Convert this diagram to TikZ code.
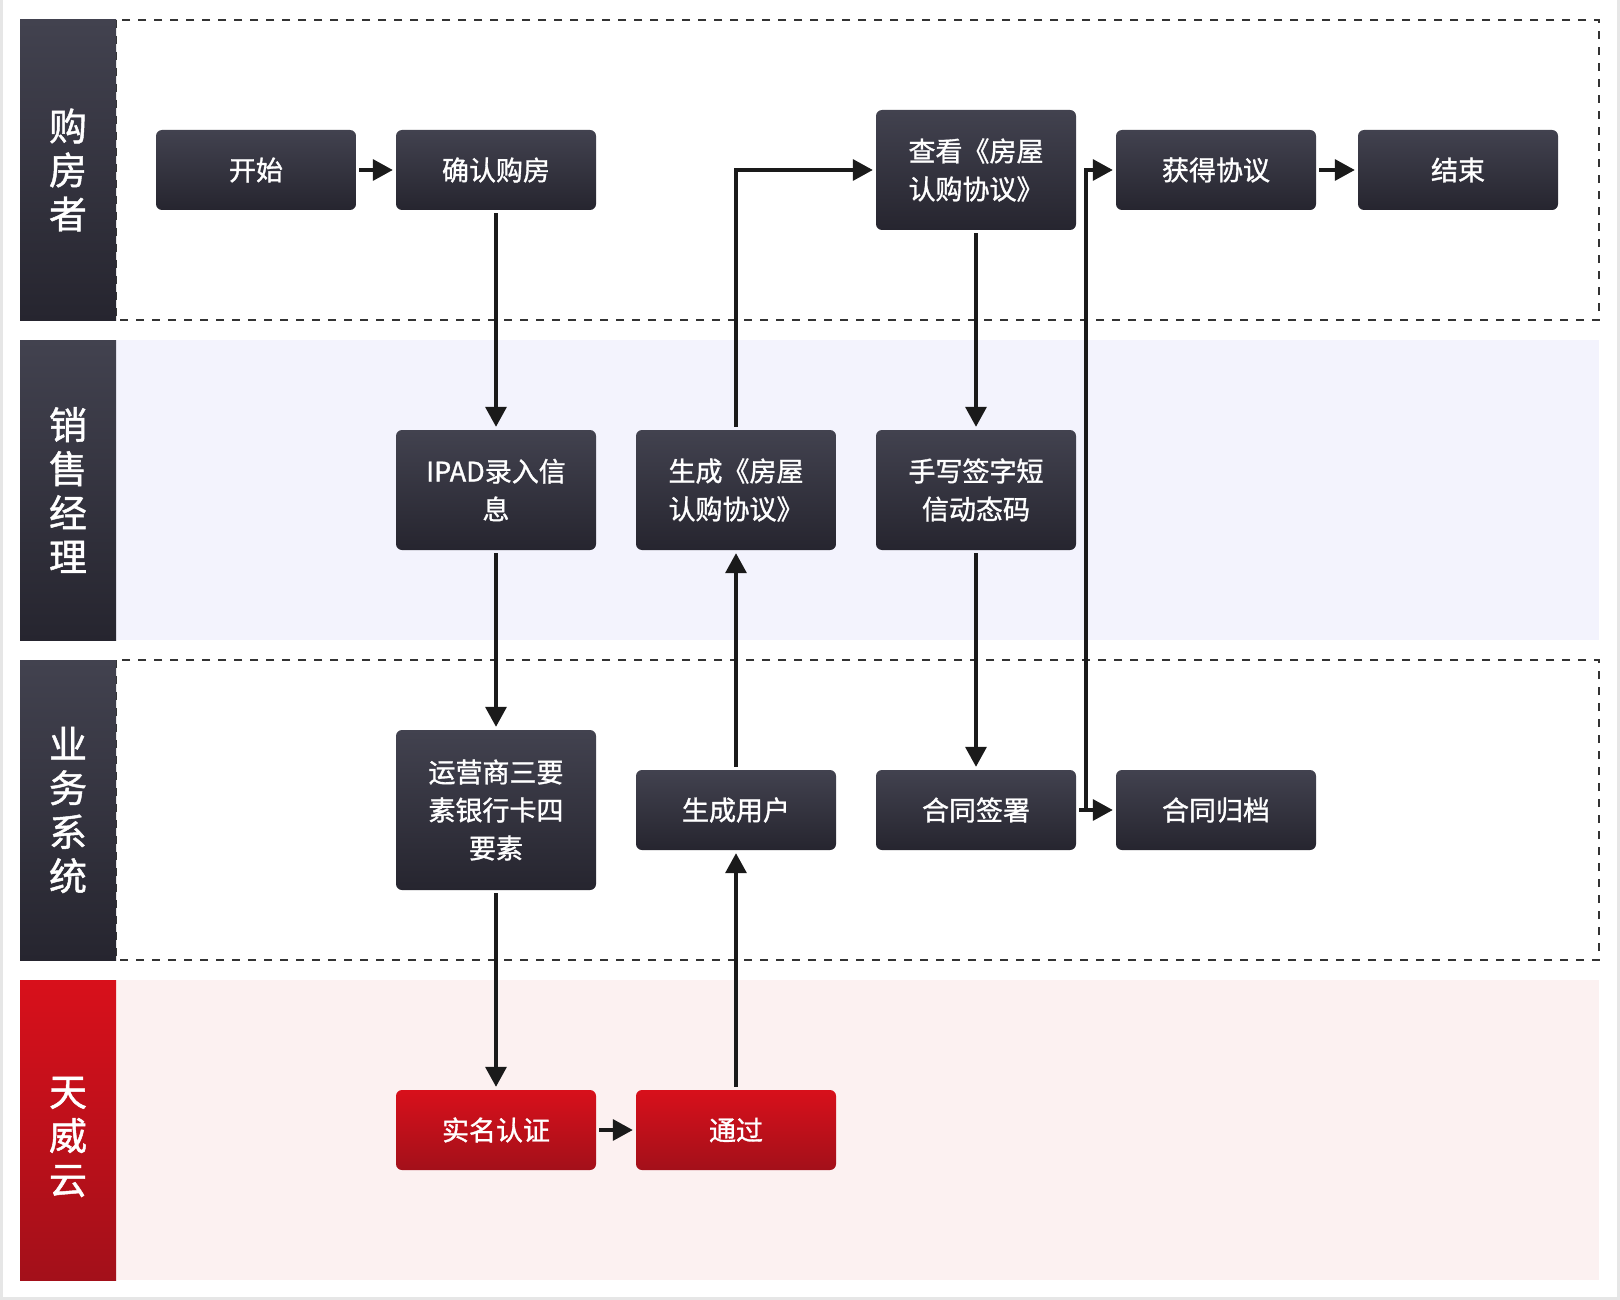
\documentclass[tikz,border=0pt]{standalone}
\usepackage{fontspec}
\setmainfont{Noto Sans CJK SC}[RawFeature={embolden=1.2}]
\usetikzlibrary{arrows.meta}
\definecolor{boxtop}{HTML}{42424F}
\definecolor{boxbot}{HTML}{26252F}
\definecolor{redtop}{HTML}{D8101B}
\definecolor{redbot}{HTML}{A3101A}
\definecolor{lanepurple}{HTML}{F3F3FD}
\definecolor{lanepink}{HTML}{FCF1F1}
\definecolor{dashcol}{HTML}{333333}
\definecolor{arrcol}{HTML}{1A1A1A}
\definecolor{framecol}{HTML}{E6E6E6}
\tikzset{
  darkbox/.style={rounded corners=6pt, top color=boxtop, bottom color=boxbot, draw=none,
    text=white, minimum width=200pt, inner sep=0pt, align=center,
    font=\fontsize{27}{38}\selectfont},
  redbox/.style={darkbox, top color=redtop, bottom color=redbot},
  hdr/.style={top color=boxtop, bottom color=boxbot, draw=none, text=white,
    minimum width=96pt, minimum height=300pt, inner sep=0pt, align=center,
    font=\fontsize{38}{44}\selectfont},
  redhdr/.style={hdr, top color=redtop, bottom color=redbot},
  arr/.style={draw=arrcol, line width=3.4pt, -{Triangle[length=20pt,width=21pt]},
    shorten <=3pt, shorten >=3pt},
  lanedash/.style={draw=dashcol, line width=2.4pt, dash pattern=on 8pt off 8pt}
}
\begin{document}
\begin{tikzpicture}[x=1pt,y=-1pt]
\useasboundingbox (0,0) rectangle (1620,1300);
\fill[white] (0,0) rectangle (1620,1300);
\draw[framecol, line width=3pt] (1.5,0) -- (1.5,1298.5) -- (1618.5,1298.5) -- (1618.5,0);
% lanes
\draw[lanedash] (116,20) rectangle (1599,320);
\fill[lanepurple] (116,340) rectangle (1599,640);
\draw[lanedash] (116,660) rectangle (1599,960);
\fill[lanepink] (116,980) rectangle (1599,1280);
% headers
\node[hdr] (h1) at (68,170) {购\\房\\者};
\node[hdr] (h2) at (68,490) {销\\售\\经\\理};
\node[hdr] (h3) at (68,810) {业\\务\\系\\统};
\node[redhdr] (h4) at (68,1130) {};
\node[text=white, align=center, font=\fontsize{38}{44}\selectfont] (h4t) at (68,1137) {天\\威\\云};
% boxes
\node[darkbox, minimum height=80pt] (start) at (256,170) {开始};
\node[darkbox, minimum height=80pt] (confirm) at (496,170) {确认购房};
\node[darkbox, minimum height=120pt, align=left] (view) at (976,170) {查看《房屋\\认购协议》};
\node[darkbox, minimum height=80pt] (get) at (1216,170) {获得协议};
\node[darkbox, minimum height=80pt] (end) at (1458,170) {结束};
\node[darkbox, minimum height=120pt] (ipad) at (496,490) {IPAD录入信\\息};
\node[darkbox, minimum height=120pt, align=left] (gen) at (736,490) {生成《房屋\\认购协议》};
\node[darkbox, minimum height=120pt] (sms) at (976,490) {手写签字短\\信动态码};
\node[darkbox, minimum height=160pt] (ops) at (496,810) {运营商三要\\素银行卡四\\要素};
\node[darkbox, minimum height=80pt] (user) at (736,810) {生成用户};
\node[darkbox, minimum height=80pt] (sign) at (976,810) {合同签署};
\node[darkbox, minimum height=80pt] (archive) at (1216,810) {合同归档};
\node[redbox, minimum height=80pt] (real) at (496,1130) {实名认证};
\node[redbox, minimum height=80pt] (pass) at (736,1130) {通过};
\coordinate (jn) at (1086,170);
% connectors
\draw[arr] (start) -- (confirm);
\draw[arr] (confirm) -- (ipad);
\draw[arr] (ipad) -- (ops);
\draw[arr] (ops) -- (real);
\draw[arr] (real) -- (pass);
\draw[arr] (pass) -- (user);
\draw[arr] (user) -- (gen);
\draw[arr] (gen.north) |- (view.west);
\draw[arr] (view) -- (sms);
\draw[arr] (sms) -- (sign);
\draw[arr] (sign) -- (archive);
\draw[arr] (sign.east) -| (jn) -- (get.west);
\draw[arr] (get) -- (end);
\end{tikzpicture}
\end{document}
